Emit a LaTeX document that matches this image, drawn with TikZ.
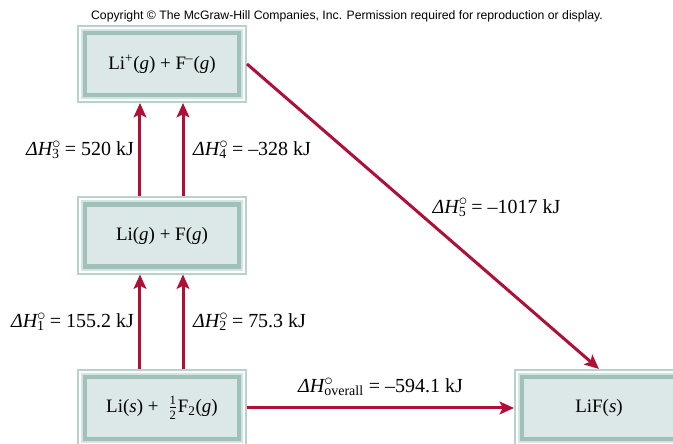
\documentclass[tikz,border=0pt]{standalone}
\usepackage{fontspec}
\setmainfont{Liberation Serif}
\newfontfamily\copyfont{Liberation Sans}
\usetikzlibrary{arrows.meta}

\definecolor{framelight}{HTML}{B7D2CD}
\definecolor{framepale}{HTML}{D3E4E1}
\definecolor{framedark}{HTML}{9FC1BA}
\definecolor{boxfill}{HTML}{DCE7E7}
\definecolor{steparrow}{HTML}{AE1038}

% enthalpy symbol with degree sign and index
\newcommand{\dH}[1]{{\itshape ΔH}\rlap{\textsuperscript{\fontsize{12}{12}\selectfont$\circ$}}\textsubscript{#1}}
\newcommand{\halfof}{$\frac{\mbox{\fontsize{9}{9}\selectfont 1}}{\mbox{\fontsize{9}{9}\selectfont 2}}$}

\tikzset{
  statebox/.style={
    fill=framelight, inner sep=0pt, outer sep=0pt,
    minimum width=4.25cm, minimum height=1.95cm,
    font=\fontsize{13.5}{16}\selectfont,
    path picture={
      % nested frame bands
      \foreach \d/\c in {0.05/white, 0.1/framepale, 0.15/framedark, 0.26/boxfill}
        \fill[\c] ([shift={(\d cm,-\d cm)}]path picture bounding box.north west)
          rectangle ([shift={(-\d cm,\d cm)}]path picture bounding box.south east);
    }
  },
  stepline/.style={steparrow, line width=0.075cm, ->,
    >={Stealth[length=0.36cm,width=0.32cm,inset=0.08cm]}},
  enthalpy/.style={black, font=\fontsize{14.2}{17}\selectfont}
}

\begin{document}
\begin{tikzpicture}[x=0.025cm, y=-0.025cm]
  \useasboundingbox (0,0) rectangle (673,444);

  \node [font=\copyfont\fontsize{8.7}{10}\selectfont] (copy) at (347,16)
    {Copyright © The McGraw-Hill Companies, Inc. Permission required for reproduction or display.};

  % the four states of the cycle
  \node [statebox] (ions)  at (162,64)    {Li\textsuperscript{+}(\textit{g}) + F\textsuperscript{–}(\textit{g})};
  \node [statebox] (atoms) at (162,235.5) {Li(\textit{g}) + F(\textit{g})};
  \node [statebox] (elem)  at (162,408)   {Li(\textit{s}) + \ \halfof F\textsubscript{2}(\textit{g})};
  \node [statebox] (salt)  at (599,408)   {LiF(\textit{s})};

  % steps
  \draw [stepline] ([xshift=-0.55cm]elem.north) -- ([xshift=-0.55cm]atoms.south)
    node [enthalpy, midway, left] {\dH{1} = 155.2 kJ};
  \draw [stepline] ([xshift=0.525cm]elem.north) -- ([xshift=0.525cm]atoms.south)
    node [enthalpy, midway, right=0.1cm] {\dH{2} = 75.3 kJ};
  \draw [stepline] ([xshift=-0.55cm]atoms.north) -- ([xshift=-0.55cm]ions.south)
    node [enthalpy, midway, left] {\dH{3} = 520 kJ};
  \draw [stepline] ([xshift=0.525cm]atoms.north) -- ([xshift=0.525cm]ions.south)
    node [enthalpy, midway, right=0.1cm] {\dH{4} = –328 kJ};
  \draw [stepline] (ions.east) -- (salt.north)
    node [enthalpy, pos=0.47, right=0.35cm] {\dH{5} = –1017 kJ};
  \draw [stepline] (elem.east) -- (salt.west)
    node [enthalpy, midway, above=0.15cm] {\dH{overall} = –594.1 kJ};
\end{tikzpicture}
\end{document}
